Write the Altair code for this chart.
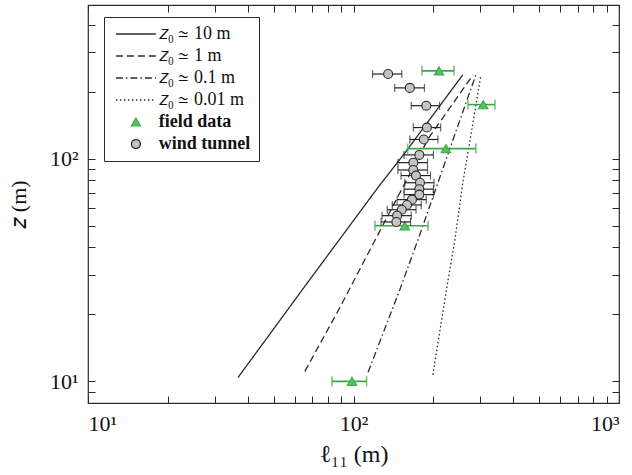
import altair as alt
import pandas as pd

# ---------------- data ----------------
series_names = ["𝑧₀ ≃ 10 m", "𝑧₀ ≃ 1 m", "𝑧₀ ≃ 0.1 m", "𝑧₀ ≃ 0.01 m",
                "field data", "wind tunnel"]

# model curves: z (m) vs l11 (m)
z0_10_z = [10.4, 28.7, 74.2, 106, 238]
z0_10_l = [36.7, 68.5, 123.6, 156, 258]
z0_1_z = [11.1, 21.5, 45.6, 124, 238]
z0_1_l = [65.6, 88.9, 123.6, 192, 282]
z0_01_z = [11.0, 25.9, 43.3, 78.0, 121.7, 238]
z0_01_l = [113.5, 149.6, 175, 208, 237, 289]
z0_001_z = [10.7, 26.7, 43.3, 78.0, 121.7, 238]
z0_001_l = [199, 225, 241, 258, 275, 302]

# field data
field_z = [10, 50, 111, 175, 248]
field_l = [98.7, 156, 223, 308, 210]
field_lo = [83, 120.5, 160, 270, 181]
field_hi = [112, 191, 289, 341, 239]

# wind tunnel
wt_z = [240, 208, 173, 138, 122, 104, 96, 89, 84, 78, 73, 69, 65.5, 62, 59, 55.5, 52]
wt_l = [135, 163, 188, 189, 184, 177, 168, 168, 172, 178, 177, 177, 166, 159, 152, 146, 145]
wt_lo = [118, 143, 165, 168, 163, 155, 147, 147, 151, 156, 155, 155, 146, 140, 134, 128, 127]
wt_hi = [152, 185, 211, 213, 208, 200, 190, 190, 195, 201, 200, 200, 188, 180, 172, 165, 164]

x_ticks = [10, 20, 30, 40, 50, 60, 70, 80, 90, 100, 200, 300, 400, 500, 600, 700, 800, 900, 1000]
y_ticks = [8, 9, 10, 20, 30, 40, 50, 60, 70, 80, 90, 100, 200, 300, 400]

# ---------------- tables ----------------
rows = []
for name, zs, ls in zip(series_names[:4],
                        [z0_10_z, z0_1_z, z0_01_z, z0_001_z],
                        [z0_10_l, z0_1_l, z0_01_l, z0_001_l]):
    for z, l in zip(zs, ls):
        rows.append({"series": name, "z": z, "l": l})
lines_df = pd.DataFrame(rows)

field_df = pd.DataFrame({"series": "field data", "z": field_z, "l": field_l,
                         "lo": field_lo, "hi": field_hi})
wt_df = pd.DataFrame({"series": "wind tunnel", "z": wt_z, "l": wt_l,
                      "lo": wt_lo, "hi": wt_hi})

FONT = "Liberation Serif"
INK = "#2b2b2b"
GREEN = "#3aa84a"
GREEN_FILL = "#5cbf5c"

x_scale = alt.Scale(type="log", domain=[10, 1000], nice=False)
y_scale = alt.Scale(type="log", domain=[8, 490], nice=False)

dom = series_names
LINE_PATH = "M-4.47,0H4.47"
dash_scale = alt.Scale(domain=dom, range=[[1, 0], [7, 4], [7, 3, 1.5, 3], [1.5, 2.5], [1, 0], [1, 0]])
shape_scale = alt.Scale(domain=dom, range=[LINE_PATH, LINE_PATH, LINE_PATH, LINE_PATH, "triangle-up", "circle"])
fill_scale = alt.Scale(domain=dom, range=["transparent", "transparent", "transparent", "transparent", GREEN_FILL, "#c4c4c4"])
stroke_scale = alt.Scale(domain=dom, range=[INK, INK, INK, INK, GREEN, INK])

legend = alt.Legend(
    title=None, orient="none", legendX=16, legendY=12,
    strokeColor=INK, fillColor="white", padding=8, cornerRadius=0,
    labelFont=FONT, labelFontSize=18, labelColor="#111",
    labelFontWeight=alt.ExprRef("datum.label == 'field data' || datum.label == 'wind tunnel' ? 'bold' : 'normal'"),
    symbolSize=80, symbolOffset=14.9, labelOffset=13.8,
    rowPadding=4, symbolStrokeWidth=1.3,
)

x_axis_bottom = alt.Axis(
    values=x_ticks, labelExpr="datum.value == 10 ? '10¹' : datum.value == 100 ? '10²' : datum.value == 1000 ? '10³' : ''",
    offset=-7, domain=False, tickSize=7, tickColor=INK, tickWidth=1, grid=False,
    labelFont=FONT, labelFontSize=22, labelColor="#111", labelPadding=10,
    title="ℓ₁₁ (m)", titleFont=FONT, titleFontSize=24, titleFontWeight="normal",
    titleColor="#111", titlePadding=8,
)
y_axis_left = alt.Axis(
    values=y_ticks, labelExpr="datum.value == 10 ? '10¹' : datum.value == 100 ? '10²' : ''",
    offset=-7, domain=False, tickSize=7, tickColor=INK, tickWidth=1, grid=False,
    labelFont=FONT, labelFontSize=22, labelColor="#111", labelPadding=10,
    title="𝑧 (m)", titleFont=FONT, titleFontSize=22, titleFontWeight="normal",
    titleColor="#111", titlePadding=19,
)
x_axis_top = alt.Axis(values=x_ticks, orient="top", labels=False, offset=-7, domain=False,
                      tickSize=7, tickColor=INK, tickWidth=1, grid=False, title=None)
y_axis_right = alt.Axis(values=y_ticks, orient="right", labels=False, offset=-7, domain=False,
                        tickSize=7, tickColor=INK, tickWidth=1, grid=False, title=None)

lines = alt.Chart(lines_df).mark_line(strokeWidth=1.3, color=INK).encode(
    x=alt.X("l:Q", scale=x_scale, axis=x_axis_bottom),
    y=alt.Y("z:Q", scale=y_scale, axis=y_axis_left),
    strokeDash=alt.StrokeDash("series:N", scale=dash_scale, legend=legend),
    order="z:Q",
)

def bars(df, color, cap, width):
    rule = alt.Chart(df).mark_rule(color=color, strokeWidth=width).encode(
        x=alt.X("lo:Q", scale=x_scale, axis=None),
        x2="hi:Q",
        y=alt.Y("z:Q", scale=y_scale, axis=None),
    )
    lo_cap = alt.Chart(df).mark_tick(color=color, orient="vertical", size=cap, thickness=width).encode(
        x=alt.X("lo:Q", scale=x_scale, axis=None),
        y=alt.Y("z:Q", scale=y_scale, axis=None),
    )
    hi_cap = alt.Chart(df).mark_tick(color=color, orient="vertical", size=cap, thickness=width).encode(
        x=alt.X("hi:Q", scale=x_scale, axis=None),
        y=alt.Y("z:Q", scale=y_scale, axis=None),
    )
    return [rule, lo_cap, hi_cap]

def pts(df, size, xaxis, yaxis):
    return alt.Chart(df).mark_point(filled=True, opacity=1, strokeWidth=1.1, size=size).encode(
        x=alt.X("l:Q", scale=x_scale, axis=xaxis),
        y=alt.Y("z:Q", scale=y_scale, axis=yaxis),
        shape=alt.Shape("series:N", scale=shape_scale, legend=legend),
        fill=alt.Fill("series:N", scale=fill_scale, legend=legend),
        stroke=alt.Stroke("series:N", scale=stroke_scale, legend=legend),
    )

field_pts = pts(field_df, 90, x_axis_top, y_axis_right)
wt_pts = pts(wt_df, 80, None, None)

chart = alt.layer(
    lines,
    *bars(field_df, GREEN, 10, 1.6),
    field_pts,
    *bars(wt_df, "#222", 8, 1.2),
    wt_pts,
).resolve_axis(x="independent", y="independent").properties(
    width=531, height=398,
    autosize=alt.AutoSizeParams(type="none"),
    padding={"left": 88, "top": 5, "right": 13, "bottom": 72},
).configure_view(stroke=INK, strokeWidth=1.2)

chart.save("out.html", embed_options={"renderer": "svg", "actions": False})
